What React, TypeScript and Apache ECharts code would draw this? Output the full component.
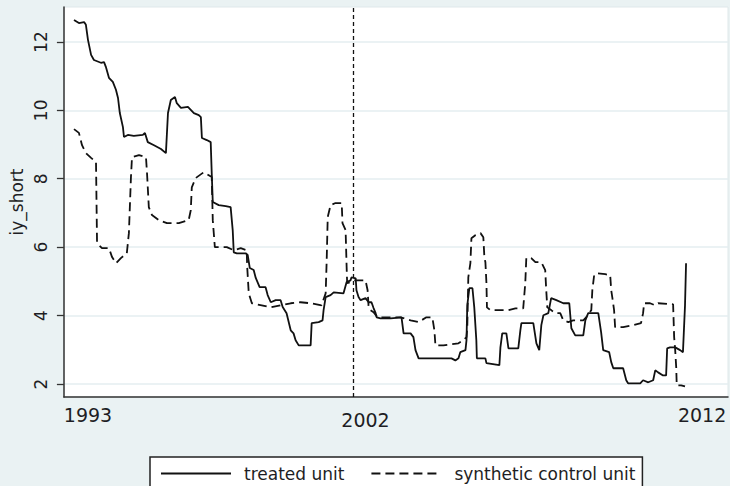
import React, { useEffect, useRef } from 'react';
import * as echarts from 'echarts';

// x values are months since January 1993
const treatedMonths = [0, 1.9, 3.9, 4.6, 5.4, 6.6, 7.7, 10.4, 11.6, 12.3, 13.5, 15.0, 16.2, 17.0, 17.7, 18.9, 19.3, 20.8, 23.1, 26.6, 27.4, 28.5, 30.9, 33.6, 35.5, 36.3, 37.4, 39.0, 39.7, 41.3, 44.0, 46.3, 48.2, 49.0, 49.4, 51.3, 52.8, 53.2, 53.6, 55.9, 58.6, 60.5, 61.3, 61.7, 62.9, 66.3, 67.1, 67.9, 69.4, 70.2, 71.7, 74.0, 74.8, 76.0, 77.9, 79.8, 80.6, 82.1, 83.7, 84.8, 85.6, 86.8, 91.4, 91.8, 94.5, 96.0, 96.4, 97.2, 99.1, 100.3, 104.1, 105.3, 106.8, 107.2, 108.8, 109.1, 109.9, 110.7, 112.6, 113.8, 114.9, 115.7, 116.5, 116.9, 118.4, 122.3, 126.5, 127.3, 130.0, 131.1, 131.9, 133.1, 145.8, 147.3, 148.5, 149.2, 151.2, 151.6, 151.9, 152.7, 153.9, 154.6, 155.4, 155.6, 158.9, 159.3, 164.3, 164.7, 165.4, 167.0, 167.8, 171.6, 172.4, 172.8, 177.4, 178.6, 179.7, 180.5, 181.3, 183.2, 184.3, 186.3, 189.0, 191.3, 192.1, 193.6, 196.7, 197.5, 198.6, 202.5, 203.6, 204.4, 206.7, 207.5, 208.3, 212.1, 213.3, 214.0, 218.7, 219.8, 221.8, 223.7, 224.5, 225.6, 227.5, 228.7, 229.1, 230.2, 232.2, 234.1, 235.2, 236.0, 236.4];
const treatedValues = [12.64, 12.55, 12.58, 12.5, 12.06, 11.62, 11.47, 11.39, 11.41, 11.27, 10.95, 10.83, 10.6, 10.36, 9.92, 9.51, 9.22, 9.28, 9.25, 9.28, 9.34, 9.07, 8.98, 8.87, 8.75, 9.92, 10.3, 10.39, 10.21, 10.07, 10.1, 9.92, 9.86, 9.8, 9.19, 9.13, 9.07, 8.16, 7.32, 7.23, 7.2, 7.17, 6.5, 5.85, 5.82, 5.82, 5.77, 5.39, 5.33, 5.1, 4.83, 4.83, 4.6, 4.39, 4.45, 4.45, 4.25, 4.07, 3.57, 3.48, 3.28, 3.13, 3.13, 3.78, 3.81, 3.86, 4.16, 4.54, 4.6, 4.68, 4.65, 4.98, 5.03, 5.12, 5.09, 4.74, 4.54, 4.45, 4.51, 4.39, 4.39, 4.22, 4.07, 3.95, 3.92, 3.92, 3.95, 3.48, 3.48, 3.37, 2.99, 2.75, 2.75, 2.69, 2.75, 2.93, 2.99, 3.28, 4.3, 4.8, 4.8, 4.24, 3.28, 2.75, 2.75, 2.61, 2.55, 3.07, 3.48, 3.48, 3.04, 3.04, 3.57, 3.78, 3.78, 3.19, 2.99, 3.72, 4.01, 4.07, 4.51, 4.45, 4.36, 4.36, 3.63, 3.42, 3.42, 3.86, 4.07, 4.07, 3.51, 2.99, 2.93, 2.64, 2.46, 2.46, 2.11, 2.02, 2.02, 2.11, 2.05, 2.11, 2.4, 2.34, 2.25, 2.25, 3.04, 3.07, 3.07, 2.99, 2.93, 4.3, 5.53];

const synthMonths = [0, 1.9, 3.1, 4.6, 6.6, 8.5, 8.9, 10.8, 13.5, 14.7, 16.2, 18.1, 20.4, 21.2, 22.0, 22.4, 25.1, 27.8, 28.2, 28.9, 30.1, 32.8, 35.9, 40.5, 44.3, 45.1, 45.5, 47.0, 50.1, 53.2, 53.6, 54.4, 59.0, 61.7, 64.4, 66.7, 66.9, 67.5, 68.7, 72.5, 76.0, 79.8, 83.7, 87.5, 91.4, 95.6, 97.2, 97.6, 98.0, 99.1, 101.0, 103.4, 103.7, 104.9, 105.3, 105.5, 106.8, 108.0, 112.6, 113.4, 113.8, 114.5, 115.7, 117.2, 119.6, 126.1, 130.0, 133.1, 136.1, 138.4, 139.2, 139.6, 142.7, 148.5, 150.4, 151.6, 151.9, 152.3, 153.1, 153.5, 155.0, 157.0, 158.1, 158.5, 158.9, 159.3, 159.5, 160.8, 167.8, 170.5, 173.5, 174.3, 174.7, 176.6, 178.2, 180.5, 182.0, 182.4, 182.8, 184.3, 185.9, 187.8, 189.0, 190.9, 192.8, 196.7, 197.8, 199.8, 200.2, 200.9, 201.7, 205.2, 207.1, 207.5, 207.9, 208.6, 209.0, 212.1, 216.0, 219.0, 219.8, 220.2, 222.5, 224.5, 225.6, 231.4, 231.8, 232.2, 232.6, 232.8, 234.5, 236.0];
const synthValues = [9.45, 9.34, 8.98, 8.75, 8.61, 8.49, 6.12, 5.97, 5.97, 5.71, 5.53, 5.68, 5.82, 6.41, 8.05, 8.63, 8.69, 8.63, 8.17, 7.17, 6.94, 6.79, 6.7, 6.7, 6.79, 7.08, 7.75, 8.02, 8.19, 8.05, 6.79, 6.0, 6.0, 5.91, 5.97, 5.91, 5.42, 4.65, 4.36, 4.3, 4.24, 4.3, 4.36, 4.39, 4.36, 4.3, 4.65, 5.62, 6.88, 7.23, 7.29, 7.29, 6.7, 6.5, 5.42, 4.95, 4.98, 5.03, 5.03, 4.74, 4.24, 4.16, 4.1, 3.95, 3.95, 3.95, 3.86, 3.81, 3.95, 3.95, 3.57, 3.13, 3.13, 3.19, 3.28, 3.37, 3.66, 5.12, 5.53, 6.26, 6.35, 6.41, 6.29, 5.71, 5.56, 4.95, 4.24, 4.16, 4.16, 4.21, 4.21, 4.95, 5.68, 5.68, 5.56, 5.56, 5.33, 4.74, 4.24, 4.16, 4.07, 4.07, 3.86, 3.81, 3.86, 3.86, 3.95, 4.16, 4.74, 5.18, 5.24, 5.21, 5.18, 4.74, 4.54, 4.16, 3.66, 3.66, 3.72, 3.78, 4.07, 4.36, 4.36, 4.3, 4.36, 4.33, 3.37, 2.99, 2.49, 1.96, 1.96, 1.93];

const yTicks = [2, 4, 6, 8, 10, 12];
const xTickLabels = ['1993', '2002', '2012'];
const xTickMonths = [5.4, 112.6, 242.6];
const treatmentMonth = 108;
const seriesNames = ['treated unit', 'synthetic control unit'];

const FONT = "'DejaVu Sans', sans-serif";
const TEXT = '#1e1e24';

export default function App() {
  const ref = useRef<HTMLDivElement>(null);
  useEffect(() => {
    document.body.style.margin = '0';
    const chart = echarts.init(ref.current!, null, { renderer: 'svg' });
    const treated = treatedMonths.map((m, i) => [m, treatedValues[i]]);
    const synth = synthMonths.map((m, i) => [m, synthValues[i]]);
    chart.setOption({
      animation: false,
      backgroundColor: '#eaf2f3',
      grid: {
        left: 63, right: 2, top: 7, bottom: 89,
        show: true, backgroundColor: '#ffffff', borderColor: '#dfe8ea', borderWidth: 1,
      },
      xAxis: {
        type: 'value', min: -3.9, max: 252.6,
        axisLine: { show: true, onZero: false, lineStyle: { color: '#333', width: 1.5 } },
        axisTick: { show: false },
        splitLine: { show: false },
        axisLabel: {
          customValues: xTickMonths,
          margin: 8,
          fontSize: 19,
          fontFamily: FONT,
          color: TEXT,
          formatter: (v: number) => {
            let best = 0;
            xTickMonths.forEach((p, i) => { if (Math.abs(p - v) < Math.abs(xTickMonths[best] - v)) best = i; });
            return best === 1 ? `{lo|${xTickLabels[best]}}` : xTickLabels[best];
          },
          rich: { lo: { fontSize: 19, fontFamily: FONT, color: TEXT, padding: [5, 0, 0, 0] } },
        },
      },
      yAxis: {
        type: 'value', min: 1.62, max: 13.02,
        name: 'iy_short', nameLocation: 'middle', nameGap: 38,
        nameTextStyle: { fontSize: 17, fontFamily: FONT, color: TEXT },
        axisLine: { show: true, onZero: false, lineStyle: { color: '#333', width: 1.5 } },
        axisTick: { show: true, length: 7, customValues: yTicks, lineStyle: { color: '#333', width: 1.3 } },
        axisLabel: { customValues: yTicks, rotate: 90, margin: 14, fontSize: 17, fontFamily: FONT, color: TEXT },
        splitLine: { show: true, lineStyle: { color: '#e4eef0', width: 1.5 } },
      },
      legend: {
        left: 150, top: 457,
        orient: 'horizontal',
        padding: [8, 7, 8, 10],
        itemWidth: 70, itemHeight: 14, itemGap: 26,
        backgroundColor: '#ffffff', borderColor: '#222', borderWidth: 1.5,
        selectedMode: false,
        itemStyle: { opacity: 0 },
        textStyle: { fontSize: 17, fontFamily: FONT, color: TEXT, padding: [0, 0, 0, 8] },
        data: seriesNames.map((n) => ({ name: n })),
      },
      series: [
        {
          name: seriesNames[0], type: 'line', data: treated,
          symbol: 'none', showSymbol: false,
          lineStyle: { color: '#111', width: 1.8 }, itemStyle: { color: '#111' },
          z: 3,
          markLine: {
            silent: true, symbol: ['none', 'none'], label: { show: false },
            lineStyle: { color: '#111', type: [4, 3], width: 1.3 },
            data: [{ xAxis: treatmentMonth }],
          },
        },
        {
          name: seriesNames[1], type: 'line', data: synth,
          symbol: 'none', showSymbol: false,
          lineStyle: { color: '#111', width: 1.8, type: [9, 5] }, itemStyle: { color: '#111' },
          z: 3,
        },
      ],
    });
    return () => chart.dispose();
  }, []);
  return <div ref={ref} style={{ position: 'absolute', left: 0, top: 0, width: 730, height: 486 }} />;
}
